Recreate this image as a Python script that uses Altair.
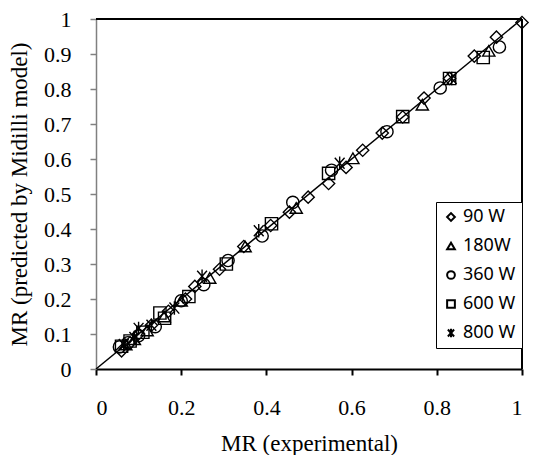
import altair as alt
import pandas as pd

series_names = ["90 W", "180W", "360 W", "600 W", "800 W"]

x_90 = [1.0, 0.94, 0.888, 0.83, 0.77, 0.72, 0.672, 0.626, 0.587, 0.546, 0.498, 0.454, 0.41, 0.347, 0.29, 0.232, 0.21, 0.17, 0.13, 0.10, 0.08, 0.06]
y_90 = [0.99, 0.948, 0.894, 0.83, 0.774, 0.72, 0.674, 0.625, 0.576, 0.53, 0.491, 0.448, 0.41, 0.35, 0.285, 0.236, 0.20, 0.165, 0.125, 0.10, 0.075, 0.052]

x_180 = [0.922, 0.766, 0.603, 0.47, 0.35, 0.267, 0.20, 0.16, 0.12, 0.09, 0.07]
y_180 = [0.909, 0.755, 0.602, 0.46, 0.35, 0.26, 0.195, 0.15, 0.11, 0.085, 0.07]

x_360 = [0.947, 0.808, 0.683, 0.553, 0.462, 0.39, 0.31, 0.253, 0.20, 0.139, 0.10, 0.075, 0.055]
y_360 = [0.92, 0.803, 0.678, 0.568, 0.476, 0.38, 0.31, 0.241, 0.195, 0.121, 0.095, 0.075, 0.063]

x_600 = [0.909, 0.83, 0.72, 0.546, 0.412, 0.306, 0.218, 0.161, 0.15, 0.11, 0.08, 0.06]
y_600 = [0.89, 0.83, 0.721, 0.559, 0.415, 0.30, 0.207, 0.145, 0.16, 0.105, 0.08, 0.065]

x_800 = [0.835, 0.572, 0.382, 0.249, 0.184, 0.13, 0.10, 0.09, 0.065]
y_800 = [0.83, 0.588, 0.395, 0.265, 0.174, 0.125, 0.116, 0.09, 0.07]

x_ticks = [0, 0.2, 0.4, 0.6, 0.8, 1]
y_ticks = [0, 0.1, 0.2, 0.3, 0.4, 0.5, 0.6, 0.7, 0.8, 0.9, 1]

line_x = [0, 1]
line_y = [0, 1]

rows = []
for name, xs, ys in zip(series_names, [x_90, x_180, x_360, x_600, x_800], [y_90, y_180, y_360, y_600, y_800]):
    for a, b in zip(xs, ys):
        rows.append({"series": name, "exp": a, "pred": b})
df = pd.DataFrame(rows)
line_df = pd.DataFrame({"exp": line_x, "pred": line_y})

star = "M-0.8,-0.9L0.8,0.9M-0.8,0.9L0.8,-0.9M0,-1.1L0,1.1"
shapes = ["diamond", "triangle-up", "circle", "square", star]

xscale = alt.Scale(domain=[0, 1], nice=False)
yscale = alt.Scale(domain=[0, 1], nice=False)

x_axis = alt.Axis(values=x_ticks, format="~g", grid=False, labelOverlap=False,
                  domainColor="black", domainWidth=2, tickColor="black", tickWidth=2, tickSize=6,
                  labelPadding=22, labelFont="Liberation Serif", labelFontSize=22, labelColor="black",
                  title="MR (experimental)", titleFont="Liberation Serif", titleFontSize=23,
                  titleFontWeight="normal", titleColor="black", titlePadding=14)
y_axis = alt.Axis(values=y_ticks, format="~g", grid=False, labelOverlap=False,
                  domainColor="#808080", domainWidth=1.5, tickColor="#808080", tickWidth=1.5, tickSize=6,
                  labelPadding=19, labelFont="Liberation Serif", labelFontSize=22, labelColor="black",
                  title="MR (predicted by Midilli model)", titleFont="Liberation Serif", titleFontSize=23,
                  titleFontWeight="normal", titleColor="black", titlePadding=12)

X = alt.X("exp:Q", scale=xscale, axis=x_axis)
Y = alt.Y("pred:Q", scale=yscale, axis=y_axis)

line = alt.Chart(line_df).mark_line(color="black", strokeWidth=1.5).encode(x=X, y=Y)

top_rule = alt.Chart(line_df).mark_rule(color="black", strokeWidth=2).encode(
    x=alt.datum(0, scale=xscale, axis=x_axis), x2=alt.datum(1),
    y=alt.datum(1, scale=yscale, axis=y_axis)
)
right_rule = alt.Chart(line_df).mark_rule(color="black", strokeWidth=2).encode(
    x=alt.datum(1, scale=xscale, axis=x_axis),
    y=alt.datum(0, scale=yscale, axis=y_axis), y2=alt.datum(1)
)

points = alt.Chart(df).mark_point(filled=False, color="black", strokeWidth=1.4, size=150, opacity=1).encode(
    x=X,
    y=Y,
    shape=alt.Shape("series:N", scale=alt.Scale(domain=series_names, range=shapes),
                    sort=series_names,
                    legend=alt.Legend(title=None, orient="none", legendX=340, legendY=183,
                                      fillColor="white", strokeColor="black", padding=6,
                                      rowPadding=11, symbolSize=60, symbolStrokeWidth=2,
                                      symbolStrokeColor="black", symbolFillColor="white",
                                      labelFont="Noto Sans", labelFontSize=18, labelColor="black",
                                      labelOffset=3, labelLimit=200)),
)

chart = alt.layer(line, top_rule, right_rule, points).properties(
    width=523, height=447, background="white", padding=0,
    autosize=alt.AutoSizeParams(type="fit", contains="padding"),
).configure_view(stroke=None)

chart.save("out.html", embed_options={"renderer": "svg", "actions": False})
